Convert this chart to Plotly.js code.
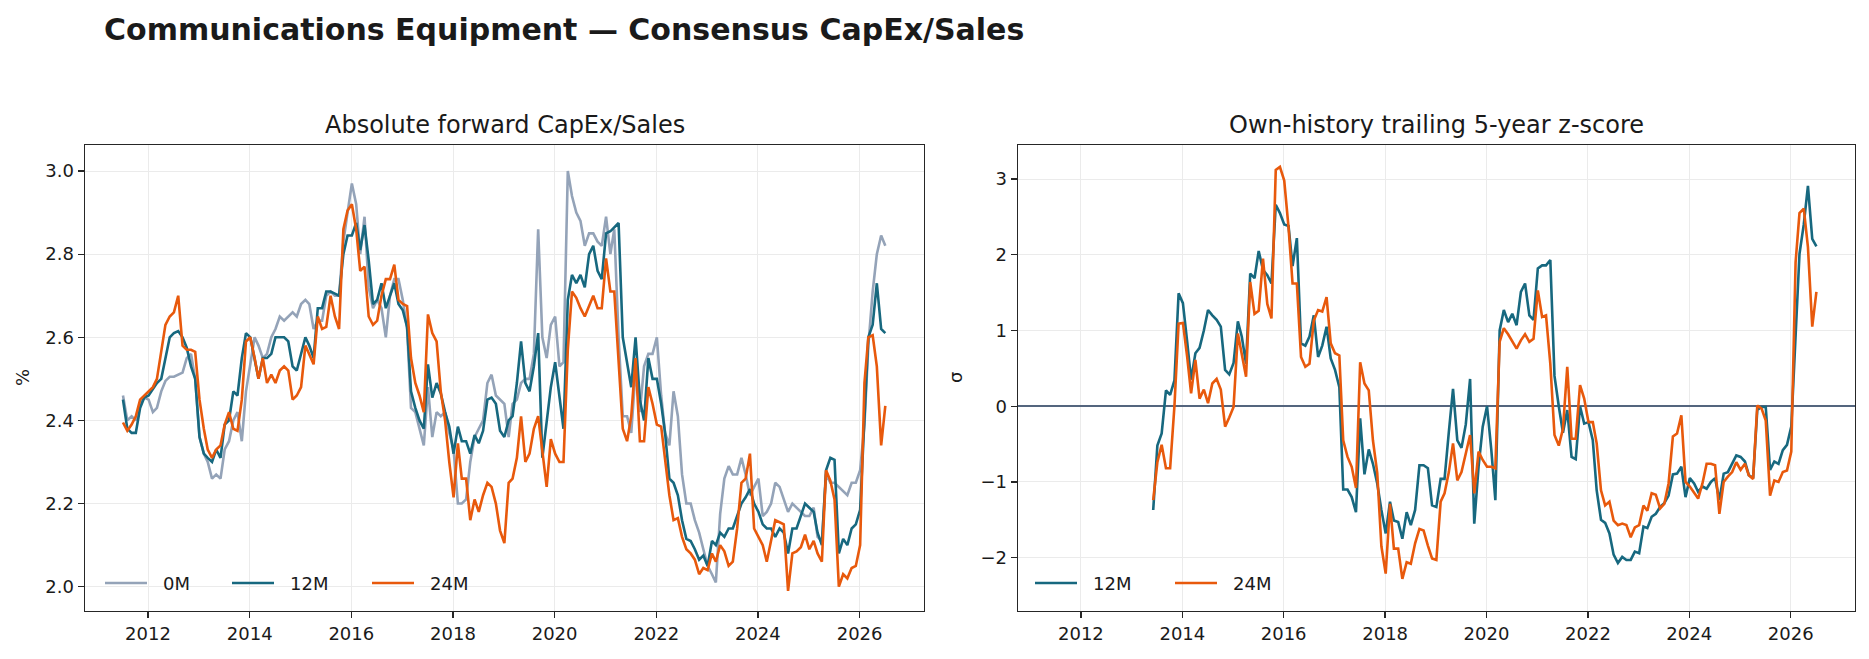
<!DOCTYPE html>
<html>
<head>
<meta charset="utf-8">
<script src="https://cdn.plot.ly/plotly-3.0.1.min.js"></script>
<style>
html,body{margin:0;padding:0;background:#ffffff;}
#chart{width:1869px;height:659px;}
</style>
</head>
<body>
<div id="chart"></div>
<script>
// ---- data (monthly, starting July 2011) ----
const startYear = 2011;
const startMonth = 7;
const zStartIndex = 23; // z-scores begin June 2013

const series0M = [
  2.46, 2.40, 2.41, 2.40, 2.44, 2.455, 2.45, 2.42, 2.43, 2.47, 2.495, 2.505,
  2.505, 2.51, 2.515, 2.55, 2.56, 2.50, 2.36, 2.32, 2.30, 2.26, 2.27, 2.26,
  2.33, 2.35, 2.40, 2.42, 2.35, 2.47, 2.53, 2.60, 2.58, 2.55, 2.56, 2.60,
  2.62, 2.65, 2.64, 2.65, 2.66, 2.65, 2.68, 2.69, 2.68, 2.62, 2.64, 2.64,
  2.70, 2.71, 2.70, 2.70, 2.83, 2.90, 2.97, 2.92, 2.80, 2.89, 2.72, 2.67,
  2.69, 2.67, 2.60, 2.70, 2.74, 2.74, 2.69, 2.62, 2.43, 2.42, 2.38, 2.34,
  2.48, 2.36, 2.42, 2.41, 2.42, 2.37, 2.33, 2.20, 2.20, 2.21, 2.30, 2.36,
  2.38, 2.40, 2.49, 2.51, 2.46, 2.45, 2.44, 2.36, 2.44, 2.45, 2.49, 2.50,
  2.50, 2.56, 2.86, 2.60, 2.55, 2.63, 2.65, 2.53, 2.54, 3.00, 2.94, 2.90,
  2.88, 2.82, 2.85, 2.85, 2.83, 2.82, 2.89, 2.80, 2.86, 2.60, 2.41, 2.41,
  2.37, 2.52, 2.42, 2.53, 2.56, 2.56, 2.60, 2.46, 2.37, 2.34, 2.47, 2.41,
  2.27, 2.20, 2.20, 2.16, 2.13, 2.09, 2.05, 2.03, 2.01, 2.175, 2.26, 2.29,
  2.27, 2.27, 2.31, 2.27, 2.22, 2.24, 2.26, 2.17, 2.18, 2.20, 2.25, 2.24,
  2.21, 2.18, 2.20, 2.19, 2.18, 2.17, 2.17, 2.19, 2.12, 2.11, 2.27, 2.25,
  2.25, 2.24, 2.23, 2.22, 2.25, 2.25, 2.28, 2.39, 2.58, 2.71, 2.80, 2.845,
  2.82
];

const series12M = [
  2.45, 2.38, 2.37, 2.37, 2.43, 2.455, 2.46, 2.475, 2.49, 2.50, 2.55, 2.60,
  2.61, 2.615, 2.60, 2.575, 2.53, 2.50, 2.36, 2.32, 2.31, 2.30, 2.33, 2.31,
  2.39, 2.40, 2.47, 2.46, 2.55, 2.61, 2.60, 2.55, 2.50, 2.55, 2.55, 2.56,
  2.60, 2.60, 2.60, 2.59, 2.53, 2.52, 2.56, 2.60, 2.58, 2.55, 2.67, 2.67,
  2.71, 2.71, 2.705, 2.70, 2.80, 2.845, 2.845, 2.875, 2.81, 2.87, 2.785, 2.68,
  2.69, 2.73, 2.67, 2.70, 2.73, 2.68, 2.665, 2.625, 2.47, 2.43, 2.40, 2.38,
  2.535, 2.455, 2.49, 2.465, 2.42, 2.385, 2.32, 2.385, 2.35, 2.35, 2.32, 2.365,
  2.345, 2.375, 2.45, 2.455, 2.44, 2.375, 2.36, 2.40, 2.41, 2.49, 2.59, 2.49,
  2.47, 2.53, 2.61, 2.31, 2.39, 2.48, 2.54, 2.45, 2.38, 2.69, 2.75, 2.73,
  2.75, 2.72, 2.80, 2.82, 2.76, 2.74, 2.85, 2.855, 2.865, 2.875, 2.60, 2.54,
  2.48, 2.60, 2.45, 2.40, 2.55, 2.50, 2.50, 2.44, 2.37, 2.26, 2.25, 2.22,
  2.16, 2.115, 2.11, 2.09, 2.065, 2.075, 2.05, 2.11, 2.10, 2.13, 2.12, 2.14,
  2.14, 2.17, 2.20, 2.215, 2.235, 2.20, 2.18, 2.15, 2.14, 2.14, 2.12, 2.14,
  2.13, 2.08, 2.14, 2.14, 2.17, 2.20, 2.19, 2.18, 2.13, 2.10, 2.28, 2.31,
  2.305, 2.08, 2.115, 2.10, 2.14, 2.15, 2.185, 2.41, 2.60, 2.63, 2.73, 2.62,
  2.61
];

const series24M = [
  2.395, 2.375, 2.39, 2.41, 2.45, 2.46, 2.47, 2.48, 2.50, 2.57, 2.63, 2.65,
  2.66, 2.70, 2.58, 2.57, 2.57, 2.565, 2.45, 2.38, 2.33, 2.31, 2.33, 2.34,
  2.39, 2.42, 2.38, 2.375, 2.45, 2.59, 2.60, 2.55, 2.50, 2.55, 2.49, 2.51,
  2.49, 2.52, 2.53, 2.52, 2.45, 2.46, 2.48, 2.58, 2.56, 2.535, 2.65, 2.62,
  2.625, 2.70, 2.65, 2.62, 2.86, 2.905, 2.92, 2.86, 2.76, 2.77, 2.65, 2.63,
  2.64, 2.70, 2.74, 2.74, 2.775, 2.69, 2.68, 2.675, 2.55, 2.49, 2.46, 2.42,
  2.655, 2.61, 2.59, 2.47, 2.40, 2.30, 2.215, 2.345, 2.26, 2.26, 2.16, 2.21,
  2.18, 2.22, 2.25, 2.24, 2.20, 2.135, 2.105, 2.25, 2.26, 2.31, 2.41, 2.30,
  2.32, 2.38, 2.41, 2.32, 2.24, 2.355, 2.32, 2.30, 2.30, 2.57, 2.71, 2.695,
  2.67, 2.65, 2.675, 2.70, 2.67, 2.67, 2.79, 2.71, 2.71, 2.55, 2.38, 2.35,
  2.41, 2.55, 2.35, 2.35, 2.48, 2.44, 2.39, 2.385, 2.31, 2.22, 2.16, 2.165,
  2.12, 2.09, 2.08, 2.065, 2.03, 2.045, 2.04, 2.08, 2.06, 2.10, 2.085, 2.05,
  2.06, 2.14, 2.25, 2.26, 2.32, 2.14, 2.12, 2.10, 2.06, 2.11, 2.16, 2.155,
  2.15, 1.99, 2.08, 2.085, 2.095, 2.125, 2.09, 2.11, 2.08, 2.06, 2.28, 2.255,
  2.21, 2.00, 2.03, 2.02, 2.045, 2.05, 2.10, 2.49, 2.60, 2.605, 2.53, 2.34,
  2.435
];

const z12M = [
  -1.37,
  -0.52, -0.36, 0.21, 0.15, 0.34, 1.49, 1.36, 0.85, 0.35, 0.70, 0.77, 1.00,
  1.27, 1.20, 1.14, 1.05, 0.48, 0.42, 0.57, 1.12, 0.92, 0.56, 1.75, 1.69,
  2.05, 1.80, 1.73, 1.62, 2.66, 2.55, 2.40, 2.38, 1.85, 2.22, 0.83, 0.80,
  0.92, 1.20, 0.65, 0.80, 1.05, 0.63, 0.48, 0.25, -1.10, -1.10, -1.20, -1.40,
  -0.16, -0.90, -0.57, -0.76, -1.02, -1.37, -1.68, -1.26, -1.51, -1.53, -1.75, -1.40,
  -1.57, -1.37, -0.78, -0.78, -0.82, -1.31, -1.33, -0.96, -0.96, -0.34, 0.23, -0.45,
  -0.55, -0.24, 0.36, -1.55, -0.80, -0.27, 0.00, -0.58, -1.24, 1.00, 1.27, 1.11,
  1.22, 1.07, 1.51, 1.62, 1.20, 1.14, 1.82, 1.86, 1.86, 1.93, 0.40, 0.00,
  -0.35, -0.05, -0.67, -0.70, 0.00, -0.23, -0.21, -0.45, -1.11, -1.50, -1.54, -1.68,
  -1.96, -2.07, -1.99, -2.03, -2.03, -1.92, -1.94, -1.59, -1.61, -1.46, -1.42, -1.33,
  -1.28, -1.18, -0.90, -0.89, -0.80, -1.20, -0.95, -1.02, -1.13, -1.06, -1.09, -1.00,
  -0.95, -1.24, -0.89, -0.87, -0.76, -0.65, -0.67, -0.73, -0.91, -0.95, -0.05, -0.01,
  -0.01, -0.84, -0.73, -0.76, -0.58, -0.51, -0.27, 0.90, 2.01, 2.40, 2.91, 2.21,
  2.11
];

const z24M = [
  -1.24,
  -0.74, -0.51, -0.82, -0.82, 0.00, 1.09, 1.10, 0.65, 0.17, 0.61, 0.10, 0.22,
  0.04, 0.30, 0.36, 0.22, -0.27, -0.15, -0.01, 0.96, 0.69, 0.39, 1.64, 1.22,
  1.26, 1.95, 1.35, 1.16, 3.12, 3.16, 2.98, 2.36, 1.62, 1.62, 0.65, 0.52,
  0.56, 1.13, 1.27, 1.25, 1.44, 0.83, 0.70, 0.67, -0.45, -0.67, -0.80, -1.08,
  0.58, 0.30, 0.21, -0.45, -0.88, -1.85, -2.21, -1.29, -1.88, -1.88, -2.28, -2.06,
  -2.08, -1.81, -1.62, -1.64, -1.84, -2.01, -2.03, -1.26, -1.15, -0.87, -0.49, -0.98,
  -0.87, -0.63, -0.38, -1.15, -0.60, -0.71, -0.80, -0.80, -0.82, 0.85, 1.03, 0.95,
  0.85, 0.76, 0.87, 0.95, 0.85, 0.89, 1.53, 1.18, 1.20, 0.56, -0.38, -0.52,
  -0.30, 0.52, -0.43, -0.43, 0.28, 0.10, -0.21, -0.21, -0.49, -1.11, -1.31, -1.26,
  -1.51, -1.57, -1.55, -1.57, -1.73, -1.60, -1.57, -1.31, -1.38, -1.15, -1.17, -1.35,
  -1.29, -1.02, -0.40, -0.36, -0.12, -1.00, -1.06, -1.15, -1.22, -1.02, -0.76, -0.76,
  -0.78, -1.42, -1.00, -0.93, -0.87, -0.74, -0.84, -0.76, -0.91, -0.96, 0.01, -0.03,
  -0.19, -1.18, -0.98, -1.00, -0.87, -0.85, -0.60, 1.90, 2.55, 2.61, 2.10, 1.05,
  1.51
];

const seriesNames = ['0M', '12M', '24M'];
const titleText = 'Communications Equipment — Consensus CapEx/Sales';
const leftTitle = 'Absolute forward CapEx/Sales';
const rightTitle = 'Own-history trailing 5-year z-score';
const leftYLabel = '%';
const rightYLabel = 'σ';

// ---- dates ----
const dates = series0M.map((_, i) => {
  const m0 = startMonth - 1 + i;
  const y = startYear + Math.floor(m0 / 12);
  const m = (m0 % 12) + 1;
  return y + '-' + String(m).padStart(2, '0') + '-05';
});
const zDates = dates.slice(zStartIndex);

// ---- styling ----
const W = 1869, H = 659;
const C0 = '#94a3b8', C12 = '#17687f', C24 = '#e8590c';
const FONT = 'DejaVu Sans, Liberation Sans, sans-serif';
const INK = '#1a1a1a';
const LW = 2.6;

const px = v => v / W;
const py = v => 1 - v / H;

const traces = [
  {x: dates, y: series0M, name: seriesNames[0], type: 'scatter', mode: 'lines',
   line: {color: C0, width: LW}, xaxis: 'x', yaxis: 'y'},
  {x: dates, y: series12M, name: seriesNames[1], type: 'scatter', mode: 'lines',
   line: {color: C12, width: LW}, xaxis: 'x', yaxis: 'y'},
  {x: dates, y: series24M, name: seriesNames[2], type: 'scatter', mode: 'lines',
   line: {color: C24, width: LW}, xaxis: 'x', yaxis: 'y'},
  {x: zDates, y: z12M, name: seriesNames[1], type: 'scatter', mode: 'lines',
   line: {color: C12, width: LW}, xaxis: 'x2', yaxis: 'y2'},
  {x: zDates, y: z24M, name: seriesNames[2], type: 'scatter', mode: 'lines',
   line: {color: C24, width: LW}, xaxis: 'x2', yaxis: 'y2'}
];

const axisCommon = {
  showgrid: true, gridcolor: '#ebebeb', gridwidth: 1,
  showline: true, mirror: true, linecolor: '#262626', linewidth: 1.4,
  ticks: 'outside', ticklen: 6, tickwidth: 1.3, tickcolor: '#262626',
  tickfont: {family: FONT, size: 18, color: INK},
  zeroline: false, automargin: false
};
const xRange = ['2010-10-05', '2027-04-09'];
const yTop = py(145), yBot = py(611);

// ---- legend (drawn as line samples + labels, matplotlib style) ----
const legendY = py(583);
const legendItems = [
  {x0: 105, x1: 147, tx: 161, color: C0, label: seriesNames[0]},
  {x0: 232, x1: 274, tx: 288, color: C12, label: seriesNames[1]},
  {x0: 372, x1: 414, tx: 428, color: C24, label: seriesNames[2]},
  {x0: 1035, x1: 1077, tx: 1091, color: C12, label: seriesNames[1]},
  {x0: 1175, x1: 1217, tx: 1231, color: C24, label: seriesNames[2]}
];
const shapes = legendItems.map(it => ({
  type: 'line', xref: 'paper', yref: 'paper',
  x0: px(it.x0), x1: px(it.x1), y0: legendY, y1: legendY,
  line: {color: it.color, width: LW}
}));
const legendLabels = legendItems.map(it => ({
  text: it.label, xref: 'paper', yref: 'paper', x: px(it.tx), y: legendY,
  xanchor: 'left', yanchor: 'middle', showarrow: false,
  font: {family: FONT, size: 18, color: INK}
}));

const layout = {
  width: W, height: H,
  margin: {l: 0, r: 0, t: 0, b: 0, pad: 0},
  paper_bgcolor: '#ffffff', plot_bgcolor: '#ffffff',
  font: {family: FONT, color: INK},
  showlegend: false,
  title: {
    text: '<b>' + titleText + '</b>',
    font: {family: FONT, size: 30, color: INK},
    x: px(104), xanchor: 'left', xref: 'container',
    y: py(29), yanchor: 'middle', yref: 'container'
  },
  xaxis: Object.assign({}, axisCommon, {
    domain: [px(85), px(924)], anchor: 'y', type: 'date', range: xRange,
    tick0: '2012-01-01', dtick: 'M24', tickformat: '%Y'
  }),
  yaxis: Object.assign({}, axisCommon, {
    domain: [yBot, yTop], anchor: 'x', range: [1.9415, 3.0626],
    tick0: 2.0, dtick: 0.2, tickformat: '.1f'
  }),
  xaxis2: Object.assign({}, axisCommon, {
    domain: [px(1018), px(1855)], anchor: 'y2', type: 'date', range: xRange,
    tick0: '2012-01-01', dtick: 'M24', tickformat: '%Y'
  }),
  yaxis2: Object.assign({}, axisCommon, {
    domain: [yBot, yTop], anchor: 'x2', range: [-2.704, 3.449],
    tick0: 0, dtick: 1, tickformat: 'd',
    zeroline: true, zerolinecolor: '#54657e', zerolinewidth: 1.5
  }),
  shapes: shapes,
  annotations: [
    {text: leftTitle, xref: 'paper', yref: 'paper', x: px(504.5), y: py(125),
     xanchor: 'center', yanchor: 'middle', showarrow: false,
     font: {family: FONT, size: 24, color: INK}},
    {text: rightTitle, xref: 'paper', yref: 'paper', x: px(1436.5), y: py(125),
     xanchor: 'center', yanchor: 'middle', showarrow: false,
     font: {family: FONT, size: 24, color: INK}},
    {text: leftYLabel, xref: 'paper', yref: 'paper', x: px(22), y: py(378),
     xanchor: 'center', yanchor: 'middle', textangle: -90, showarrow: false,
     font: {family: FONT, size: 18, color: INK}},
    {text: rightYLabel, xref: 'paper', yref: 'paper', x: px(955), y: py(378),
     xanchor: 'center', yanchor: 'middle', textangle: -90, showarrow: false,
     font: {family: FONT, size: 18, color: INK}}
  ].concat(legendLabels)
};

Plotly.newPlot('chart', traces, layout, {displayModeBar: false, staticPlot: true});
</script>
</body>
</html>
